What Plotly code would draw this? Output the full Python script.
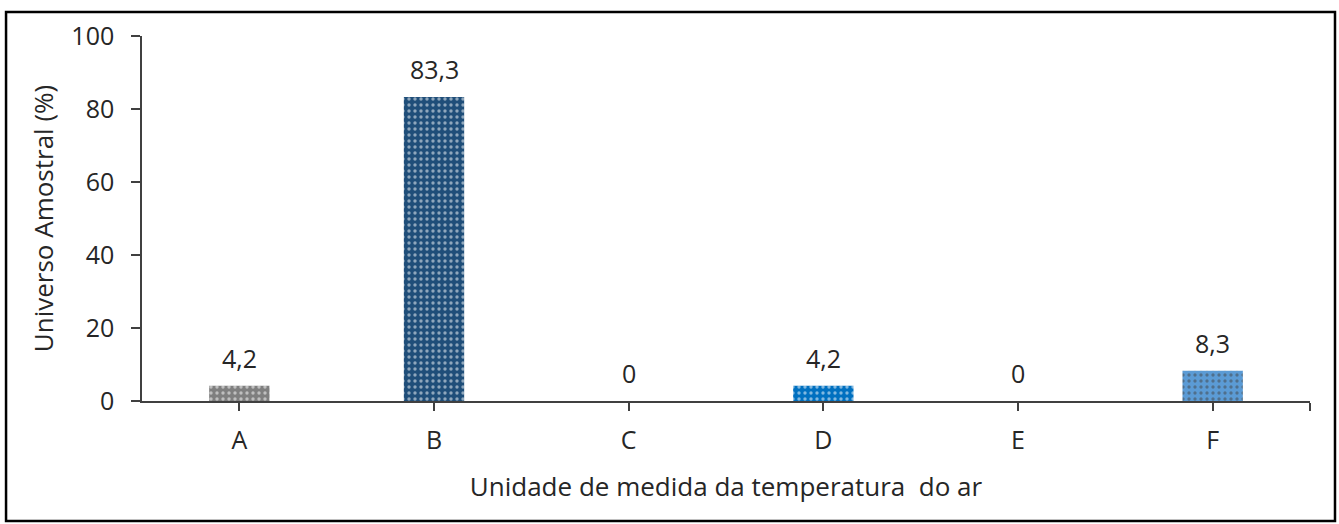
import plotly.graph_objects as go

categories = ["A", "B", "C", "D", "E", "F"]
values = [4.2, 83.3, 0, 4.2, 0, 8.3]
labels = ["4,2", "83,3", "0", "4,2", "0", "8,3"]
colors = ["#7f7f7f", "#1f4e79", "#1f4e79", "#0070c0", "#0070c0", "#5b9bd5"]
y_ticks = [0, 20, 40, 60, 80, 100]

xs = list(range(len(categories)))
fig = go.Figure()
fig.add_trace(go.Bar(
    x=xs, y=values, width=0.31,
    marker=dict(color=colors, line=dict(width=0),
                pattern=dict(shape=".", fgcolor="white", size=6, solidity=0.25, fillmode="overlay")),
))
for xi, v, lab in zip(xs, values, labels):
    fig.add_annotation(x=xi, y=v, text=lab, showarrow=False, yanchor="middle",
                       yshift=28, font=dict(size=25, color="#262626", family="Open Sans"))

fig.update_layout(
    width=1339, height=524,
    margin=dict(l=142, r=29, t=36, b=123),
    paper_bgcolor="white", plot_bgcolor="white",
    showlegend=False,
    font=dict(family="Open Sans", size=25, color="#262626"),
)
fig.update_xaxes(
    range=[-0.5, 5.5], tickvals=xs + [5.5], ticktext=categories + [""],
    ticks="outside", ticklen=8, tickcolor="#404040", tickwidth=1.5,
    showline=True, linecolor="#404040", linewidth=1.5, showgrid=False, zeroline=False,
    title=dict(text="Unidade de medida da temperatura  do ar", font=dict(size=26), standoff=23),
    tickfont=dict(size=25), ticklabelstandoff=8,
)
fig.update_yaxes(
    range=[0, 100], tickvals=y_ticks, ticks="outside", ticklen=9, tickcolor="#404040", tickwidth=1.5,
    showline=True, linecolor="#404040", linewidth=1.5, showgrid=False, zeroline=False,
    title=dict(text="Universo Amostral (%)", font=dict(size=26), standoff=10),
    tickfont=dict(size=25), ticklabelstandoff=12,
)
fig.add_shape(type="rect", xref="paper", yref="paper",
              x0=-0.1164, x1=1.0214, y0=-0.3288, y1=1.0658,
              line=dict(color="black", width=2.5), fillcolor="rgba(0,0,0,0)", layer="above")
fig.write_html("out.html", config={"displayModeBar": False},
               post_script="document.body.style.margin='0';document.body.style.overflow='hidden';")
